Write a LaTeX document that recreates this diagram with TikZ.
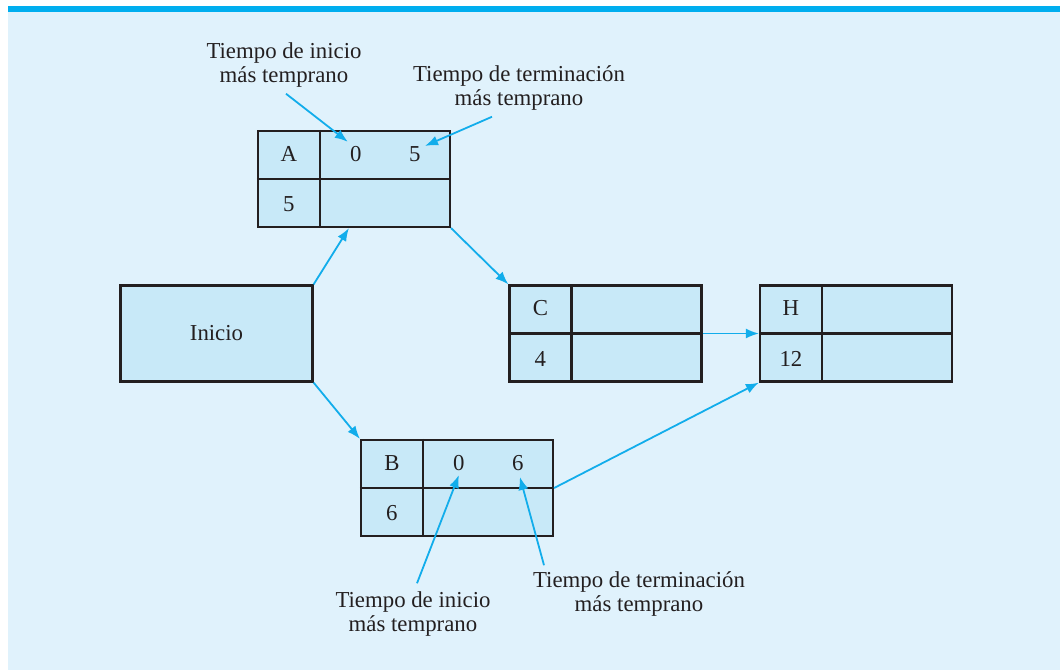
\documentclass[tikz,border=0pt]{standalone}
\usepackage{fontspec}
\setmainfont{Liberation Serif}
\usetikzlibrary{arrows.meta, positioning}
\definecolor{bgblue}{HTML}{E0F2FC}
\definecolor{barblue}{HTML}{00AEEF}
\definecolor{boxblue}{HTML}{C8E9F8}
\definecolor{arrowblue}{HTML}{12ADEB}
\definecolor{ink}{HTML}{231F20}
\begin{document}
\begin{tikzpicture}[x=0.5pt, y=-0.5pt, font=\fontsize{11.4}{12}\selectfont, text=ink, act/.style={draw=ink, line width=1.1pt, fill=boxblue, minimum width=96pt, minimum height=48pt, inner sep=0pt}, cell/.style={draw=ink, line width=1.1pt}, val/.style={inner sep=2pt}, note/.style={align=center, inner sep=1pt}, arrow/.style={-{Latex[length=6.5pt, width=5pt]}, line width=0.9pt, arrowblue}]

% background and top bar
\useasboundingbox (0,0) rectangle (1060,670);
\fill[bgblue] (8,12) rectangle (1060,670);
\fill[barblue] (8,6) rectangle (1060,12);

\node[act] (ini) at (216.5,333.5) {Inicio};
\node[act] (A) at (354,179) {};
\node[act] (B) at (457,488) {};
\node[act] (C) at (605.5,333.5) {};
\node[act] (H) at (856,333.5) {};

% inner cell lines
\foreach \n in {A,B,C,H}{
  \draw[cell] ([xshift=31.5pt]\n.north west) -- ([xshift=31.5pt]\n.south west);
  \draw[cell] (\n.west) -- (\n.east);
}

\node[val] (nA) at ([xshift=16pt, yshift=-12pt]A.north west) {A};
\node[val] (dA) at ([xshift=16pt, yshift=12pt]A.south west) {5};
\node[val] (esA) at ([xshift=49.5pt, yshift=-12pt]A.north west) {0};
\node[val] (efA) at ([xshift=79pt, yshift=-12pt]A.north west) {5};

\node[val] (nB) at ([xshift=16pt, yshift=-12pt]B.north west) {B};
\node[val] (dB) at ([xshift=16pt, yshift=12pt]B.south west) {6};
\node[val] (esB) at ([xshift=49.5pt, yshift=-12pt]B.north west) {0};
\node[val] (efB) at ([xshift=79pt, yshift=-12pt]B.north west) {6};

\node[val] (nC) at ([xshift=16pt, yshift=-12pt]C.north west) {C};
\node[val] (dC) at ([xshift=16pt, yshift=12pt]C.south west) {4};

\node[val] (nH) at ([xshift=16pt, yshift=-12pt]H.north west) {H};
\node[val] (dH) at ([xshift=16pt, yshift=12pt]H.south west) {12};

% labels
\node[note] (tsA) at (284,65) {Tiempo de inicio\\más temprano};
\node[note] (tfA) at (519,88) {Tiempo de terminación\\más temprano};
\node[note] (tsB) at (413,614) {Tiempo de inicio\\más temprano};
\node[note] (tfB) at (639,594) {Tiempo de terminación\\más temprano};

\draw[arrow] (ini.north east) -- ([xshift=46pt]A.south west);
\draw[arrow] (A.south east) -- (C.north west);
\draw[arrow] (ini.south east) -- (B.north west);
\draw[arrow] (C.east) -- (H.west);
\draw[arrow] (B.east) -- (H.south west);

\draw[arrow] ([xshift=1pt, yshift=-2pt]tsA.south) -- ([xshift=1pt]esA.north west);
\draw[arrow] ([xshift=-13.5pt, yshift=-2pt]tfA.south) -- ([yshift=-2pt]efA.north east);
\draw[arrow] ([xshift=2pt, yshift=3pt]tsB.north) -- (esB.south);
\draw[arrow] ([xshift=-47.5pt, yshift=2pt]tfB.north) -- ([xshift=1pt, yshift=-1pt]efB.south);

\end{tikzpicture}
\end{document}
